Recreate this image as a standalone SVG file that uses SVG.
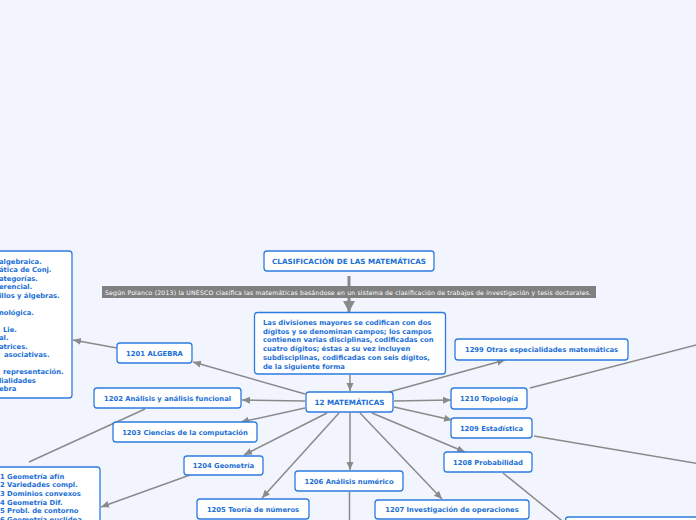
<svg xmlns="http://www.w3.org/2000/svg" width="696" height="520" viewBox="0 0 696 520">
<defs>
<marker id="ah" markerUnits="userSpaceOnUse" markerWidth="10" markerHeight="8" refX="8" refY="3.5" orient="auto"><path d="M0,0 L8,3.5 L0,7 z" fill="#8a8a8a"/></marker>
<marker id="ahb" markerUnits="userSpaceOnUse" markerWidth="14" markerHeight="14" refX="11" refY="6" orient="auto"><path d="M0,0 L11,6 L0,12 z" fill="#8a8a8a"/></marker>
<style>
.n{fill:#ffffff;stroke:#2c7be0;stroke-width:1.3}
.t{font-family:"DejaVu Sans",Verdana,sans-serif;font-weight:bold;font-size:6.8px;fill:#1b6fd6}
.c{text-anchor:middle}
.l{fill:none;stroke:#8a8a8a;stroke-width:1.5}
.la{fill:none;stroke:#8a8a8a;stroke-width:1.5;marker-end:url(#ah)}
</style>
</defs>
<rect x="0" y="0" width="696" height="520" fill="#f2f5fd"/>
<g id="connectors">
<path class="l" d="M349,276 L349,302" style="stroke-width:3"/>
<path d="M349,300 L349,312" style="fill:none;stroke:#8a8a8a;stroke-width:3;marker-end:url(#ahb)"/>
<path class="la" d="M350,375 L350,391"/>
<path class="la" d="M305,394 L193,362"/>
<path class="la" d="M305,401 L242,400"/>
<path class="la" d="M305,408 L241,422"/>
<path class="la" d="M327,413 L244,455"/>
<path class="la" d="M339,413 L262,498"/>
<path class="la" d="M350,413 L350,470"/>
<path class="la" d="M360,413 L442,499"/>
<path class="la" d="M372,413 L465,452"/>
<path class="la" d="M394,407 L452,420"/>
<path class="la" d="M394,401 L451,400"/>
<path class="la" d="M389,392 L505,360"/>
<path class="la" d="M117,348 L73,340"/>
<path class="la" d="M190,475 L101,507"/>
<path class="l" d="M145,409 L29,462"/>
<path class="l" d="M349.5,492 L349.5,520"/>
<path class="l" d="M503,473 L566,524"/>
<path class="l" d="M534,436 L700,464"/>
<path class="l" d="M530,388 L700,344"/>
</g>
<g id="banner">
<rect x="102" y="286" width="494" height="12" fill="#808080"/>
<text x="105" y="294.5" textLength="486" style="font-family:'DejaVu Sans',Verdana,sans-serif;font-size:6.2px;fill:#ffffff">Según Polanco (2013) la UNESCO clasifica las matemáticas basándose en un sistema de clasificación de trabajos de investigación y tesis doctorales.</text>
</g>
<g id="title"><rect class="n" x="264" y="251" width="170" height="20" rx="3"/><text class="t c" x="349" y="264" style="font-size:7.2px" textLength="154">CLASIFICACIÓN DE LAS MATEMÁTICAS</text></g>
<g id="desc"><rect class="n" x="254.5" y="312.5" width="191" height="61.5" rx="3"/>
<text class="t" x="263" y="325">Las divisiones mayores se codifican con dos</text>
<text class="t" x="263" y="333.7">dígitos y se denominan campos; los campos</text>
<text class="t" x="263" y="342.4">contienen varias disciplinas, codificadas con</text>
<text class="t" x="263" y="351.1">cuatro dígitos; éstas a su vez incluyen</text>
<text class="t" x="263" y="359.8">subdisciplinas, codificadas con seis dígitos,</text>
<text class="t" x="263" y="368.5">de la siguiente forma</text>
</g>
<g id="n12"><rect class="n" x="306" y="392" width="87" height="20" rx="3"/><text class="t c" x="349.5" y="404.5" style="font-size:7.2px" textLength="70">12 MATEMÁTICAS</text></g>
<g id="n1201"><rect class="n" x="117" y="343" width="75" height="20" rx="3"/><text class="t c" x="154.5" y="355.5">1201 ALGEBRA</text></g>
<g id="n1202"><rect class="n" x="94" y="388" width="147" height="20" rx="3"/><text class="t c" x="167.5" y="400.5">1202 Análisis y análisis funcional</text></g>
<g id="n1203"><rect class="n" x="113" y="422" width="144" height="20" rx="3"/><text class="t c" x="185" y="434.5">1203 Ciencias de la computación</text></g>
<g id="n1204"><rect class="n" x="184" y="456" width="79" height="19" rx="3"/><text class="t c" x="223.5" y="468">1204 Geometría</text></g>
<g id="n1205"><rect class="n" x="197" y="499" width="112" height="20" rx="3"/><text class="t c" x="253" y="511.5">1205 Teoría de números</text></g>
<g id="n1206"><rect class="n" x="295" y="471" width="108" height="20" rx="3"/><text class="t c" x="349" y="483.5">1206 Análisis numérico</text></g>
<g id="n1207"><rect class="n" x="375" y="500" width="154" height="19" rx="3"/><text class="t c" x="452" y="512">1207 Investigación de operaciones</text></g>
<g id="n1208"><rect class="n" x="444" y="452" width="88" height="20" rx="3"/><text class="t c" x="488" y="464.5">1208 Probabilidad</text></g>
<g id="n1209"><rect class="n" x="451" y="418" width="81" height="20" rx="3"/><text class="t c" x="491.5" y="430.5">1209 Estadística</text></g>
<g id="n1210"><rect class="n" x="451" y="388" width="76" height="21" rx="3"/><text class="t c" x="489" y="401">1210 Topología</text></g>
<g id="n1299"><rect class="n" x="455" y="339" width="173" height="21" rx="3"/><text class="t c" x="541.5" y="352">1299 Otras especialidades matemáticas</text></g>
<g id="algebra-list"><rect class="n" x="-10" y="251" width="82" height="147" rx="3"/>
<text class="t" x="-1" y="263.5">algebraica.</text>
<text class="t" x="-1" y="272">ática de Conj.</text>
<text class="t" x="-1" y="280.5">ategorías.</text>
<text class="t" x="-1" y="289">erencial.</text>
<text class="t" x="-1" y="297.5">illos y álgebras.</text>
<text class="t" x="-1" y="314.5">nológica.</text>
<text class="t" x="3" y="331.5">Lie.</text>
<text class="t" x="-1" y="340">al.</text>
<text class="t" x="-1" y="348.5">atrices.</text>
<text class="t" x="4" y="357">asociativas.</text>
<text class="t" x="3" y="374">representación.</text>
<text class="t" x="-1" y="382.5">lialidades</text>
<text class="t" x="-1" y="391">ebra</text>
</g>
<g id="geometry-list"><rect class="n" x="-10" y="467" width="110" height="70" rx="3"/>
<text class="t" x="0" y="478.5">1 Geometría afín</text>
<text class="t" x="0" y="487.2">2 Variedades compl.</text>
<text class="t" x="0" y="495.9">3 Dominios convexos</text>
<text class="t" x="0" y="504.6">4 Geometría Dif.</text>
<text class="t" x="0" y="513.3">5 Probl. de contorno</text>
<text class="t" x="0" y="522">6 Geometría euclidea</text>
</g>
<g id="offscreen-node"><rect class="n" x="565.5" y="517" width="150" height="20" rx="3"/></g>
</svg>
